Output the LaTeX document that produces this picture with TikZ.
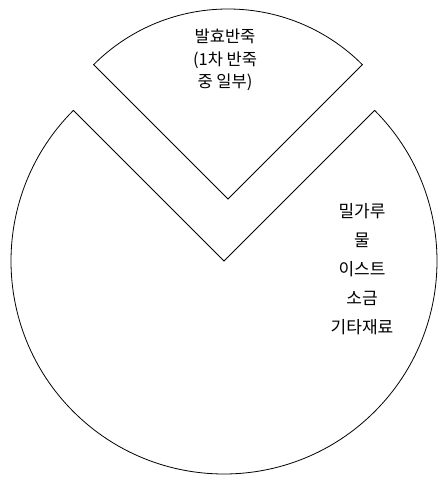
\documentclass[tikz,border=0pt]{standalone}
\usepackage{fontspec}
\newfontfamily\kr{Noto Sans CJK KR}
\begin{document}
\begin{tikzpicture}[x=1pt,y=1pt,
  slice/.style={draw=black,line width=0.8pt,line join=miter},
  lbl/.style={align=center,inner sep=0pt,text=black}]
\useasboundingbox (0,0) rectangle (439,477);
% large remaining part of the pie (centre (224,216), r = 213)
\coordinate (c) at (224,216);
\draw[slice] (c) -- ++(135:213) arc[start angle=135,end angle=405,radius=213] -- cycle;
% pulled-out slice (apex (228,278), r = 190)
\coordinate (p) at (228,278);
\draw[slice] (p) -- ++(45:190) arc[start angle=45,end angle=135,radius=190] -- cycle;
% labels
\node[lbl,font=\kr\fontsize{16.5}{22.5}\selectfont] (top) at (225,417) {발효반죽\\(1차 반죽\\중 일부)};
\node[lbl,font=\kr\fontsize{17}{29}\selectfont] (ing) at (362,208) {밀가루\\물\\이스트\\소금\\기타재료};
\end{tikzpicture}
\end{document}
